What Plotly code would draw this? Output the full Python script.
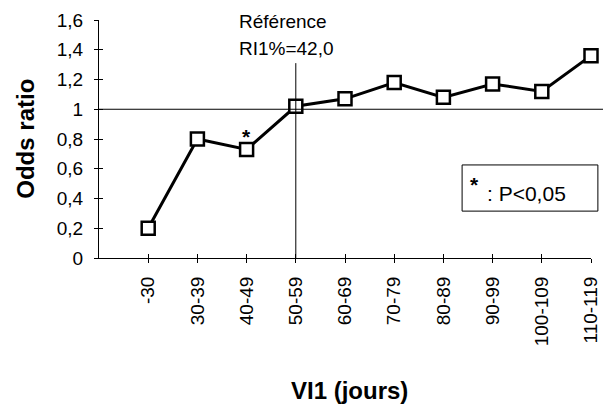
import plotly.graph_objects as go

categories = ["-30", "30-39", "40-49", "50-59", "60-69", "70-79", "80-89", "90-99", "100-109", "110-119"]
odds_ratio = [0.20, 0.80, 0.73, 1.02, 1.07, 1.18, 1.08, 1.17, 1.12, 1.36]
y_ticks = [0, 0.2, 0.4, 0.6, 0.8, 1.0, 1.2, 1.4, 1.6]
y_tick_labels = ["0", "0,2", "0,4", "0,6", "0,8", "1", "1,2", "1,4", "1,6"]
ref_category = "50-59"
signif_category = "40-49"
signif_value = 0.73

FONT = "Liberation Sans, Arial, sans-serif"

fig = go.Figure()
fig.add_trace(go.Scatter(
    x=categories, y=odds_ratio, mode="lines+markers",
    line=dict(color="black", width=3),
    marker=dict(symbol="square", size=13, color="white", line=dict(color="black", width=2.5)),
    cliponaxis=False, showlegend=False,
))
# invisible copy on overlay axes so the inner half of the crossing tick marks is drawn
fig.add_trace(go.Scatter(x=categories, y=odds_ratio, xaxis="x2", yaxis="y2", mode="markers",
                         marker=dict(opacity=0), hoverinfo="skip", showlegend=False))

fig.update_layout(
    width=603, height=404,
    margin=dict(l=99, r=12, t=20, b=146),
    plot_bgcolor="white", paper_bgcolor="white",
    font=dict(family=FONT, color="black"),
    xaxis=dict(
        type="category", categoryorder="array", categoryarray=categories,
        range=[-1, len(categories) - 1], automargin=False,
        showline=True, linecolor="black", linewidth=1,
        ticks="outside", ticklen=4, tickcolor="black",
        tickangle=-90, tickfont=dict(size=19, family=FONT),
        showgrid=False, zeroline=False, ticklabelstandoff=6,
    ),
    yaxis=dict(
        range=[0, 1.6], tickvals=y_ticks, ticktext=y_tick_labels, automargin=False,
        showline=True, linecolor="black", linewidth=1,
        ticks="outside", ticklen=4, tickcolor="black",
        tickfont=dict(size=19, family=FONT),
        showgrid=False, zeroline=False, ticklabelstandoff=7,
    ),
    xaxis2=dict(
        overlaying="x", type="category", categoryorder="array", categoryarray=categories,
        range=[-1, len(categories) - 1], automargin=False, showticklabels=False,
        ticks="inside", ticklen=4, tickcolor="black", showgrid=False,
        zeroline=False, showline=False, side="bottom",
    ),
    yaxis2=dict(
        overlaying="y", side="left", range=[0, 1.6], tickvals=y_ticks, automargin=False,
        showticklabels=False, ticks="inside", ticklen=4, tickcolor="black",
        showgrid=False, zeroline=False, showline=False,
    ),
)

# reference lines
fig.add_shape(type="line", xref="paper", yref="y", x0=0, x1=1.03, y0=1, y1=1,
              line=dict(color="black", width=1))
fig.add_shape(type="line", xref="x", yref="y", x0=ref_category, x1=ref_category, y0=0, y1=1.31,
              line=dict(color="black", width=1))

# reference text
fig.add_annotation(xref="paper", yref="paper", x=0.2805, y=0.992, xanchor="left", yanchor="middle",
                   text="Référence", showarrow=False, font=dict(size=19, family=FONT))
fig.add_annotation(xref="paper", yref="paper", x=0.2805, y=0.882, xanchor="left", yanchor="middle",
                   text="RI1%=42,0", showarrow=False, font=dict(size=19, family=FONT))

# significance star
fig.add_annotation(x=signif_category, y=signif_value, yshift=13, text="<b>*</b>", showarrow=False,
                   xanchor="center", yanchor="middle", font=dict(size=21, family=FONT))

# legend box
fig.add_shape(type="rect", xref="paper", yref="paper", x0=0.738, x1=1.014, y0=0.197, y1=0.391,
              line=dict(color="black", width=1), fillcolor="white")
fig.add_annotation(xref="paper", yref="paper", x=0.750, y=0.310, xanchor="left", yanchor="middle",
                   text="<b>*</b>", showarrow=False, font=dict(size=21, family=FONT))
fig.add_annotation(xref="paper", yref="paper", x=0.785, y=0.273, xanchor="left", yanchor="middle",
                   text=": P&lt;0,05", showarrow=False, font=dict(size=21, family=FONT))

# axis titles
fig.add_annotation(xref="paper", yref="paper", x=-0.151, y=0.50, xanchor="center", yanchor="middle",
                   text="<b>Odds ratio</b>", textangle=-90, showarrow=False,
                   font=dict(size=24, family=FONT))
fig.add_annotation(xref="paper", yref="paper", x=0.51, y=-0.555, xanchor="center", yanchor="middle",
                   text="<b>VI1 (jours)</b>", showarrow=False, font=dict(size=24, family=FONT))

fig.write_html("out.html", post_script="document.body.style.margin='0px';",
               config={"displayModeBar": False})
